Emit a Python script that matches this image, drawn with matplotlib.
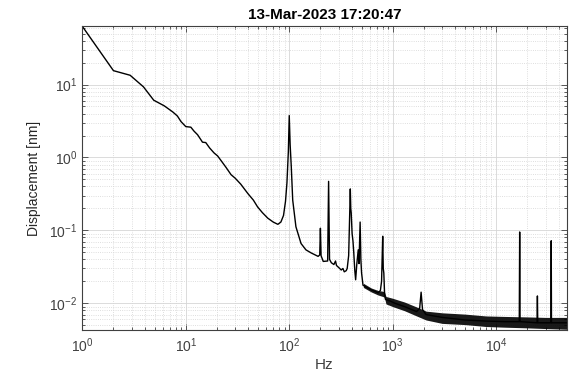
import numpy as np
import matplotlib
matplotlib.use("Agg")
import matplotlib.pyplot as plt
from matplotlib.ticker import LogLocator, NullFormatter

plt.rcParams['font.family'] = ['Liberation Sans', 'DejaVu Sans']

# displacement spectrum (Hz, nm)
freq = [1.0, 2.0, 2.9, 3.9, 4.9, 6.2, 7.5, 8.3, 9.0, 10.0, 11.2, 12.0, 13.0,
        14.0, 14.5, 15.6, 17.0, 18.8, 20.3, 22.0, 24.5, 27.4, 30.0, 34.0,
        39.8, 45.0, 49.4, 55.0, 62.0, 70.0, 77.6, 83.0, 88.0, 92.0, 95.0,
        98.0, 100.0, 102.0, 104.6, 108.0, 116.0, 130.0, 145.0, 163.0, 190.0,
        197.0, 200.0, 203.0, 213.0, 235.0, 240.0, 245.0, 255.0, 270.0, 280.0,
        286.0, 300.0, 318.0, 330.0, 340.0, 355.0, 363.0, 375.0, 385.0, 389.0,
        393.0, 397.0, 405.0, 413.0, 420.0, 430.0, 438.0, 450.0, 464.0, 472.0,
        484.0, 492.0, 500.0, 516.0, 560.0, 625.0, 680.0, 723.0, 760.0, 780.0,
        800.0, 810.0, 820.0, 835.0, 850.0, 950.0, 1050.0, 1300.0, 1700.0,
        1820.0, 1880.0, 1940.0, 2100.0, 3000.0, 5000.0, 8000.0, 12000.0,
        16700.0, 16850.0, 17000.0, 24800.0, 25000.0, 25200.0, 33800.0,
        34000.0, 34200.0, 48000.0]
disp = [63.0, 15.5, 13.4, 9.3, 6.1, 5.1, 4.2, 3.7, 3.1, 2.65, 2.6, 2.3, 2.05,
        1.75, 1.62, 1.6, 1.35, 1.15, 1.05, 0.9, 0.73, 0.58, 0.52, 0.43,
        0.32, 0.26, 0.21, 0.175, 0.147, 0.13, 0.121, 0.13, 0.16, 0.25, 0.45,
        1.2, 3.75, 1.5, 0.75, 0.26, 0.112, 0.066, 0.054, 0.049, 0.044,
        0.046, 0.107, 0.045, 0.0375, 0.038, 0.47, 0.04, 0.036, 0.034, 0.038,
        0.033, 0.031, 0.0286, 0.030, 0.027, 0.028, 0.030, 0.045, 0.2, 0.37,
        0.2, 0.174, 0.09, 0.071, 0.05, 0.028, 0.021, 0.035, 0.054, 0.035,
        0.13, 0.04, 0.026, 0.0177, 0.0165, 0.0152, 0.0145, 0.0139, 0.015, 0.02,
        0.083, 0.03, 0.026, 0.013, 0.0113, 0.0107, 0.0100, 0.0090, 0.0077,
        0.0085, 0.0142, 0.0082, 0.0070, 0.0064, 0.0059, 0.0057, 0.0056,
        0.0056, 0.095, 0.0056, 0.0054, 0.0126, 0.0054, 0.0054,
        0.072, 0.0054, 0.0054]

# spread of the noise floor at high frequency
band_freq = [520, 620, 720, 830, 860, 1000, 1300, 1700, 2100, 3000, 5000,
             8000, 12000, 20000, 30000, 48000]
band_low = [0.0165, 0.0143, 0.0130, 0.0122, 0.0098, 0.0090, 0.0079, 0.0067,
            0.0059, 0.0053, 0.0051, 0.0048, 0.0047, 0.0046, 0.0045, 0.0044]
band_high = [0.0188, 0.0162, 0.0150, 0.0145, 0.0124, 0.0117, 0.0104, 0.0089,
             0.0078, 0.0074, 0.0071, 0.0067, 0.0066, 0.0065, 0.0064, 0.0064]

fig = plt.figure(figsize=(5.75, 3.72), dpi=100)
ax = fig.add_axes([0.1431, 0.1129, 0.8425, 0.8172])

ax.fill_between(band_freq, band_low, band_high, color='black', lw=0, alpha=0.9)
ax.plot(freq, disp, color='black', linewidth=1.0)

ax.set_xscale('log')
ax.set_yscale('log')
ax.set_xlim(1, 48000)
ax.set_ylim(0.0043, 63.5)

ax.xaxis.set_major_locator(LogLocator(base=10, numticks=10))
ax.xaxis.set_minor_locator(LogLocator(base=10, subs=np.arange(2, 10), numticks=50))
ax.yaxis.set_major_locator(LogLocator(base=10, numticks=10))
ax.yaxis.set_minor_locator(LogLocator(base=10, subs=np.arange(2, 10), numticks=50))
ax.xaxis.set_minor_formatter(NullFormatter())
ax.yaxis.set_minor_formatter(NullFormatter())

ax.grid(True, which='major', color='#d6d6d6', linestyle='-', linewidth=0.6)
ax.grid(True, which='minor', color='#d4d4d4', linestyle=':', linewidth=0.6)
ax.set_axisbelow(True)

ax.tick_params(which='both', direction='in', top=True, right=True,
               colors='#404040', labelsize=10, width=0.6)
ax.tick_params(axis='x', which='major', length=4, pad=4.5)
ax.tick_params(axis='y', which='major', length=4, pad=3.5)
ax.tick_params(which='minor', length=2)
for s in ax.spines.values():
    s.set_color('#404040')
    s.set_linewidth(0.8)

ax.set_xlabel('Hz', fontsize=11, color='#404040', labelpad=2)
ax.set_ylabel('Displacement [nm]', fontsize=10, color='#262626', labelpad=6)
ax.set_title('13-Mar-2023 17:20:47', fontsize=11, fontweight='bold', pad=5)

fig.savefig('out.png', dpi=100)
